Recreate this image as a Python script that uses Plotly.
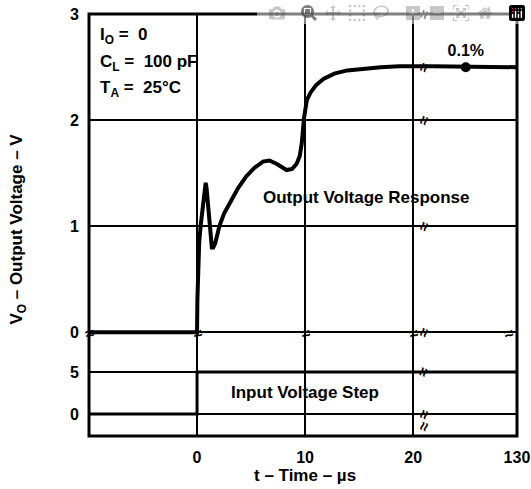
import plotly.graph_objects as go

# ---- data ----
t_out = [-10, 0, 0.03, 0.1, 0.2, 0.35, 0.5, 0.62, 0.72, 0.8, 0.88, 0.97, 1.06, 1.18, 1.28, 1.37, 1.5,
         1.68, 1.9, 2.06, 2.5, 3.0, 3.8, 4.55, 5.3, 6.1, 6.7, 7.35, 7.9, 8.29, 8.8, 9.22, 9.5, 9.69,
         9.9, 10.16, 10.5, 11.0, 11.7, 12.7, 13.9, 15.5, 17.0, 18.7, 20.4, 21.85]
v_out = [0, 0, 0.3, 0.62, 0.85, 1.02, 1.15, 1.29, 1.38, 1.41, 1.36, 1.25, 1.12, 0.93, 0.84, 0.80, 0.80,
         0.84, 0.93, 1.0, 1.12, 1.22, 1.36, 1.47, 1.55, 1.61, 1.62, 1.59, 1.55, 1.53, 1.54, 1.59, 1.66, 1.78,
         2.02, 2.19, 2.26, 2.33, 2.39, 2.44, 2.47, 2.49, 2.50, 2.51, 2.51, 2.51]
t_out_late = [21.85, 130]
v_out_late = [2.51, 2.50]
t_in = [-10, 0, 0, 21.85]
v_in = [0, 0, 5, 5]
t_in_late = [21.85, 130]
v_in_late = [5, 5]
settle_t = [64]
settle_v = [2.50]
settle_label = "0.1%"

x_ticks_left = [0, 10, 20]
x_ticks_right = [130]
y_ticks_top = [0, 1, 2, 3]
y_ticks_bottom = [0, 5]

FONT = "Liberation Sans"
BLACK = "#000000"

fig = go.Figure()
fig.add_trace(go.Scatter(x=t_out, y=v_out, xaxis="x", yaxis="y", mode="lines",
                         line=dict(color=BLACK, width=4, shape="linear"), hoverinfo="skip"))
fig.add_trace(go.Scatter(x=t_out_late, y=v_out_late, xaxis="x2", yaxis="y", mode="lines",
                         line=dict(color=BLACK, width=4), hoverinfo="skip"))
fig.add_trace(go.Scatter(x=settle_t, y=settle_v, xaxis="x2", yaxis="y", mode="markers+text",
                         marker=dict(color=BLACK, size=10), text=[settle_label], textposition="top center",
                         textfont=dict(family=FONT, size=16, color=BLACK, weight="bold"), hoverinfo="skip"))
fig.add_trace(go.Scatter(x=t_in, y=v_in, xaxis="x", yaxis="y2", mode="lines",
                         line=dict(color=BLACK, width=3), hoverinfo="skip"))
fig.add_trace(go.Scatter(x=t_in_late, y=v_in_late, xaxis="x2", yaxis="y2", mode="lines",
                         line=dict(color=BLACK, width=3), hoverinfo="skip"))

BRK = 0.804
YBRK = 0.2156
tickfont = dict(family=FONT, size=16, color=BLACK, weight="bold")
base = dict(showline=False, zeroline=False, ticks="", tickfont=tickfont, automargin=False,
            ticklabeloverflow="allow")
grid = dict(gridcolor=BLACK, gridwidth=1.5)
fig.update_layout(
    width=531, height=489, showlegend=False,
    paper_bgcolor="white", plot_bgcolor="white",
    margin=dict(l=89, r=14, t=14, b=53),
    xaxis=dict(domain=[0, BRK], range=[-10, 21.85], tickmode="array", tickvals=x_ticks_left,
               anchor="y2", ticklabelstandoff=10, **base, **grid),
    xaxis2=dict(domain=[BRK, 1], range=[21.85, 130.05], tickmode="array", tickvals=x_ticks_right,
                anchor="y2", showgrid=False, ticklabelstandoff=10, **base),
    yaxis=dict(domain=[YBRK, 1], range=[-0.12, 3.002], tickmode="array", tickvals=y_ticks_top,
               anchor="x", ticklabelstandoff=9, **base, **grid),
    yaxis2=dict(domain=[0, YBRK], range=[-2.6, 8.2], tickmode="array", tickvals=y_ticks_bottom,
                anchor="x", ticklabelstandoff=9, **base, **grid),
)

# frame
fig.add_shape(type="rect", xref="paper", yref="paper", x0=0, x1=1, y0=0, y1=1,
              line=dict(color=BLACK, width=3))

ann_font = dict(family=FONT, size=17, color=BLACK, weight="bold")
anns = [
    dict(x=-9.2, y=2.79, xref="x", yref="y", text="I<sub>O</sub> =  0", xanchor="left"),
    dict(x=-9.2, y=2.54, xref="x", yref="y", text="C<sub>L</sub> =  100 pF", xanchor="left"),
    dict(x=-9.2, y=2.29, xref="x", yref="y", text="T<sub>A</sub> =  25°C", xanchor="left"),
    dict(x=15.7, y=1.27, xref="x", yref="y", text="Output Voltage Response", xanchor="center"),
    dict(x=10, y=2.6, xref="x", yref="y2", text="Input Voltage Step", xanchor="center"),
]
for a in anns:
    fig.add_annotation(showarrow=False, font=ann_font, yanchor="middle", **a)

fig.add_annotation(x=10, y=-0.093, xref="x", yref="paper", text="t – Time – µs", showarrow=False,
                   font=ann_font, yanchor="middle")
fig.add_annotation(x=-0.165, y=0.49, xref="paper", yref="paper", text="V<sub>O</sub> – Output Voltage – V",
                   showarrow=False, textangle=-90, font=ann_font, xanchor="center")

# break marks
brk_font = dict(family=FONT, size=16, color=BLACK, weight="bold")
for yv in [3, 2.5, 2, 1, 0]:
    fig.add_annotation(x=BRK + 0.006, y=yv, xref="paper", yref="y", text="≈", showarrow=False,
                       textangle=-70, font=brk_font)
for yv in [5, 0]:
    fig.add_annotation(x=BRK + 0.006, y=yv, xref="paper", yref="y2", text="≈", showarrow=False,
                       textangle=-70, font=brk_font)
fig.add_annotation(x=BRK + 0.006, y=0, xref="paper", yref="paper", text="≈", showarrow=False,
                   textangle=-70, font=brk_font)
for xv in [-10, 0, 10, 20]:
    fig.add_annotation(x=xv, y=YBRK, xref="x", yref="paper", text="≈", showarrow=False,
                       textangle=-15, font=brk_font)
fig.add_annotation(x=1, y=YBRK, xref="paper", yref="paper", text="≈", showarrow=False,
                   textangle=-15, font=brk_font)

fig.write_html("out.html", post_script="document.body.style.margin='0';document.body.style.overflow='hidden';")
